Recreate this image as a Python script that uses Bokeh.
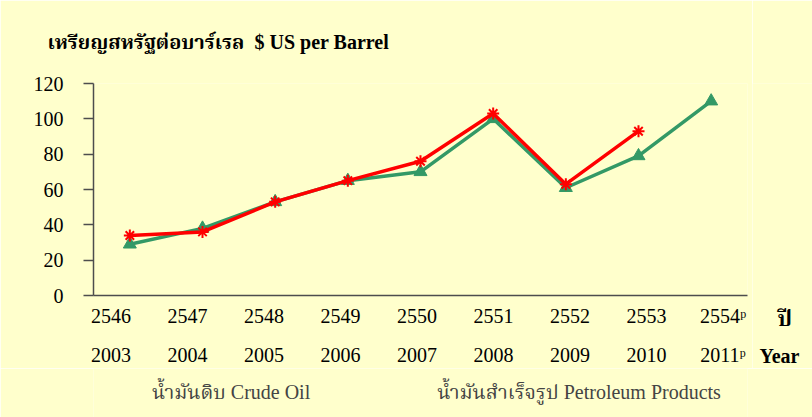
from bokeh.plotting import figure
from bokeh.layouts import row, column
from bokeh.models import Range1d, LinearAxis, FixedTicker, Legend, LegendItem
from bokeh.core.properties import value
from bokeh.embed import file_html
from bokeh.resources import INLINE

# ---- data ----
thai_years = ["2546", "2547", "2548", "2549", "2550", "2551", "2552", "2553", "2554"]
thai_labels = ["2546", "2547", "2548", "2549", "2550", "2551", "2552", "2553", "2554ᵖ"]
ad_labels = ["2003", "2004", "2005", "2006", "2007", "2008", "2009", "2010", "2011ᵖ"]
crude_oil = [29, 38, 53, 65, 70, 100, 61, 79, 110]
petroleum_products = [34, 36, 53, 65, 76, 103, 63, 93]
y_ticks = [0, 20, 40, 60, 80, 100, 120]
title_text = "เหรียญสหรัฐต่อบาร์เรล\u00a0 $ US per Barrel"
crude_name = "น้ำมันดิบ Crude Oil"
petro_name = "น้ำมันสำเร็จรูป Petroleum Products"
axis_caption_th = "ปี"
axis_caption_en = "Year"

FONT = "'Liberation Serif', 'Noto Serif Thai', 'Noto Sans Thai', serif"
BG = "#FFFFCC"
GREEN = "#339966"
RED = "#FF0000"
AXIS = "#4d4d4d"

GREEN_LINE = dict(line_color=GREEN, line_width=3.5)
GREEN_MARK = dict(marker="triangle", size=13, fill_color=GREEN, line_color=GREEN)
RED_LINE = dict(line_color=RED, line_width=3.5)
RED_MARK = dict(marker="asterisk", size=12, line_color=RED, line_width=2)

# category index positions for each year
xi = list(range(len(thai_years)))

p = figure(frame_width=654, frame_height=212,
           x_range=Range1d(-0.5, len(thai_years) - 0.5),
           y_range=Range1d(0, 120),
           x_axis_location=None,
           output_backend="svg", toolbar_location=None,
           min_border_left=93, min_border_right=5,
           min_border_top=83, min_border_bottom=73,
           background_fill_color=BG, border_fill_color=BG,
           outline_line_color=None)
p.grid.grid_line_color = None

# title
p.title.text = title_text
p.title.align = "left"
p.title.vertical_align = "top"
p.title.offset = -46
p.title.standoff = 57
p.title.text_font = FONT
p.title.text_font_size = "20px"
p.title.text_font_style = "bold"
p.title.text_color = "black"

# y axis
ya = p.yaxis[0]
ya.ticker = FixedTicker(ticks=y_ticks)
ya.major_tick_out = 10
ya.major_tick_in = 0
ya.minor_tick_out = 0
ya.minor_tick_in = 0
ya.axis_line_color = AXIS
ya.axis_line_width = 1.5
ya.major_tick_line_color = AXIS
ya.major_tick_line_width = 1.5
ya.major_label_standoff = 20
ya.major_label_text_font = FONT
ya.major_label_text_font_size = "20px"
ya.major_label_text_color = "black"

# label axes (two rows of year labels, slightly wider spread than the points)
p.extra_x_ranges = {"lbl": Range1d(-0.23, 8.32)}

def label_axis(labels, standoff, line_color, ticks):
    return LinearAxis(x_range_name="lbl",
                      ticker=FixedTicker(ticks=ticks),
                      major_label_overrides={i: t for i, t in zip(ticks, labels)},
                      major_tick_out=0, major_tick_in=0,
                      minor_tick_out=0, minor_tick_in=0,
                      major_label_standoff=standoff,
                      axis_line_color=line_color, axis_line_width=1.5,
                      major_label_text_font=FONT,
                      major_label_text_font_size="20px",
                      major_label_text_color="black")

p.add_layout(label_axis(thai_labels, 9, AXIS, xi), "below")
p.add_layout(label_axis(ad_labels, 14, None, xi), "below")

# series
n_p = len(petroleum_products)
p.line(xi, crude_oil, **GREEN_LINE)
p.scatter(xi, crude_oil, **GREEN_MARK)
p.line(xi[:n_p], petroleum_products, **RED_LINE)
p.scatter(xi[:n_p], petroleum_products, **RED_MARK)

# right-hand strip with the axis captions
q = figure(frame_width=60, frame_height=285,
           x_range=Range1d(752, 812), y_range=Range1d(368, 83),
           x_axis_location=None, y_axis_location=None,
           output_backend="svg", toolbar_location=None,
           min_border=0, min_border_top=83,
           background_fill_color=BG, border_fill_color=BG,
           outline_line_color=None)
q.grid.grid_line_color = None
q.text(x=[777], y=[318], text=[axis_caption_th], text_font=value(FONT),
       text_font_style="bold", text_font_size="22px", text_baseline="middle",
       text_color="black")
q.text(x=[759], y=[355], text=[axis_caption_en], text_font=value(FONT),
       text_font_style="bold", text_font_size="20px", text_baseline="middle",
       text_color="black")

# legend strip along the bottom (same series styles)
lg = figure(frame_width=654, frame_height=49,
            x_range=Range1d(0, 1), y_range=Range1d(0, 1),
            x_axis_location=None, y_axis_location=None,
            output_backend="svg", toolbar_location=None,
            min_border=0, min_border_left=93, min_border_right=65,
            background_fill_color=BG, border_fill_color=BG,
            outline_line_color=None)
lg.grid.grid_line_color = None
lgl = lg.line([], [], **GREEN_LINE)
lgs = lg.scatter([], [], **GREEN_MARK)
lrl = lg.line([], [], **RED_LINE)
lrs = lg.scatter([], [], **RED_MARK)
legend = Legend(items=[LegendItem(label=crude_name, renderers=[lgl, lgs]),
                       LegendItem(label=petro_name, renderers=[lrl, lrs])],
                location=(0, 7), orientation="horizontal",
                glyph_width=53, glyph_height=28, label_standoff=6,
                spacing=68, padding=2, margin=0,
                label_text_font=FONT, label_text_font_size="20px",
                background_fill_alpha=0, border_line_color=None)
lg.add_layout(legend)

layout = column(row(p, q, spacing=0), lg, spacing=0)
open("out.html", "w").write(file_html(layout, INLINE))
